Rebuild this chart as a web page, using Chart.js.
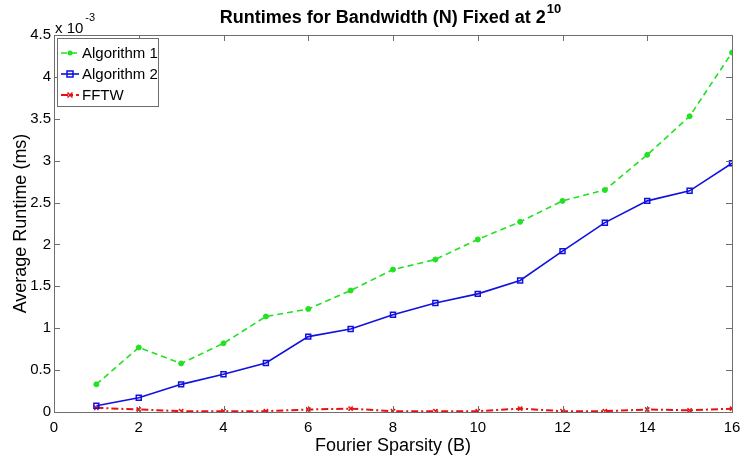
<!DOCTYPE html>
<html>
<head>
<meta charset="utf-8">
<script src="https://cdn.jsdelivr.net/npm/chart.js@4"></script>
<style>
  html, body { margin: 0; padding: 0; background: #fff; }
  #wrap { width: 740px; height: 461px; }
</style>
</head>
<body>
<div id="wrap"><canvas id="chart1" width="740" height="461"></canvas></div>
<script>
// runtimes are in units of 1e-3 ms (axis multiplier "x 10^-3")
const sparsity = [1, 2, 3, 4, 5, 6, 7, 8, 9, 10, 11, 12, 13, 14, 15, 16]
const algo1 = [0.33, 0.77, 0.58, 0.82, 1.14, 1.23, 1.45, 1.70, 1.82, 2.06, 2.27, 2.52, 2.65, 3.07, 3.53, 4.29]
const algo2 = [0.075, 0.17, 0.33, 0.45, 0.585, 0.90, 0.99, 1.16, 1.30, 1.41, 1.57, 1.92, 2.26, 2.52, 2.64, 2.97]
const fftw = [0.05, 0.03, 0.01, 0.01, 0.01, 0.03, 0.04, 0.01, 0.01, 0.01, 0.04, 0.01, 0.01, 0.03, 0.02, 0.04]
const seriesNames = ['Algorithm 1', 'Algorithm 2', 'FFTW']

const FONT = '"Liberation Sans", Arial, Helvetica, sans-serif'

function pts(arr){
    return sparsity.map((x, i) => ({x: x, y: arr[i]}))
}

// MATLAB style: box, inward ticks, title with superscript, exponent label, legend inside
const matlabBits = {
    id: 'matlabBits',
    afterDraw(chart){
        const ctx = chart.ctx
        const a = chart.chartArea
        const xs = chart.scales.x, ys = chart.scales.y
        ctx.save()
        ctx.strokeStyle = '#6e6e6e'
        ctx.lineWidth = 1
        ctx.strokeRect(a.left + 0.5, a.top + 0.5, a.right - a.left, a.bottom - a.top)
        ctx.beginPath()
        xs.ticks.forEach(t => {
            const px = Math.round(xs.getPixelForValue(t.value)) + 0.5
            ctx.moveTo(px, a.bottom); ctx.lineTo(px, a.bottom - 6)
            ctx.moveTo(px, a.top); ctx.lineTo(px, a.top + 6)
        })
        ys.ticks.forEach(t => {
            const py = Math.round(ys.getPixelForValue(t.value)) + 0.5
            ctx.moveTo(a.left, py); ctx.lineTo(a.left + 6, py)
            ctx.moveTo(a.right, py); ctx.lineTo(a.right - 6, py)
        })
        ctx.stroke()

        // title
        ctx.fillStyle = '#000'
        ctx.textBaseline = 'alphabetic'
        const main = 'Runtimes for Bandwidth (N) Fixed at 2'
        ctx.font = 'bold 13px ' + FONT
        const supW = ctx.measureText('10').width
        ctx.font = 'bold 18px ' + FONT
        const mainW = ctx.measureText(main).width
        const tx = 390 - (mainW + supW) / 2
        ctx.textAlign = 'left'
        ctx.fillText(main, tx, 23)
        ctx.font = 'bold 13px ' + FONT
        ctx.fillText('10', tx + mainW + 1, 13)

        // exponent label
        ctx.font = '15px ' + FONT
        ctx.fillText('x 10', a.left + 1, 33)
        const ew = ctx.measureText('x 10').width
        ctx.font = '11px ' + FONT
        ctx.fillText('-3', a.left + 3 + ew, 21)

        // legend
        const lx = a.left + 3, ly = a.top + 3, lw = 101, lh = 68
        ctx.fillStyle = '#fff'
        ctx.fillRect(lx, ly, lw, lh)
        ctx.strokeStyle = '#6e6e6e'
        ctx.lineWidth = 1
        ctx.strokeRect(lx + 0.5, ly + 0.5, lw, lh)
        chart.data.datasets.forEach((ds, i) => {
            const cy = ly + 15 + i * 21
            ctx.strokeStyle = ds.borderColor
            ctx.lineWidth = ds.borderWidth
            ctx.setLineDash(ds.borderDash || [])
            ctx.beginPath()
            ctx.moveTo(lx + 4, cy); ctx.lineTo(lx + 22, cy)
            ctx.stroke()
            ctx.setLineDash([])
            const mx = lx + 13
            ctx.fillStyle = ds.pointBackgroundColor
            ctx.strokeStyle = ds.pointBorderColor
            ctx.lineWidth = 1.5
            ctx.beginPath()
            if (ds.pointStyle === 'circle') {
                ctx.arc(mx, cy, 2.5, 0, Math.PI * 2); ctx.fill()
            } else if (ds.pointStyle === 'rect') {
                ctx.strokeRect(mx - 3, cy - 3, 6, 6)
            } else {
                ctx.moveTo(mx - 2.5, cy - 2.5); ctx.lineTo(mx + 2.5, cy + 2.5)
                ctx.moveTo(mx + 2.5, cy - 2.5); ctx.lineTo(mx - 2.5, cy + 2.5)
                ctx.stroke()
            }
            ctx.fillStyle = '#000'
            ctx.font = '15px ' + FONT
            ctx.textBaseline = 'middle'
            ctx.fillText(ds.label, lx + 25, cy + 1)
        })
        ctx.restore()
    }
}

function grafico(){
    const data = {
        datasets: [{
            label: seriesNames[0],
            data: pts(algo1),
            borderColor: '#22e022',
            backgroundColor: '#22e022',
            borderWidth: 1.6,
            borderDash: [6, 4],
            pointStyle: 'circle',
            pointRadius: 2.5,
            pointBackgroundColor: '#22e022',
            pointBorderColor: '#22e022',
            pointBorderWidth: 1
        }, {
            label: seriesNames[1],
            data: pts(algo2),
            borderColor: '#1010e0',
            backgroundColor: '#1010e0',
            borderWidth: 1.6,
            pointStyle: 'rect',
            pointRadius: 3.5,
            pointBackgroundColor: 'rgba(0,0,0,0)',
            pointBorderColor: '#1010e0',
            pointBorderWidth: 1.5
        }, {
            label: seriesNames[2],
            data: pts(fftw),
            borderColor: '#e81010',
            backgroundColor: '#e81010',
            borderWidth: 2,
            borderDash: [7, 3, 2, 3],
            pointStyle: 'crossRot',
            pointRadius: 3,
            pointBackgroundColor: '#e81010',
            pointBorderColor: '#e81010',
            pointBorderWidth: 1.5
        }]
    }
    new Chart(document.getElementById('chart1'), {
        type: 'line',
        data,
        plugins: [matlabBits],
        options: {
            responsive: false,
            animation: false,
            layout: {padding: {top: 35, right: 8, left: 0, bottom: 0}},
            plugins: {legend: {display: false}, title: {display: false}, tooltip: {enabled: false}},
            scales: {
                x: {
                    type: 'linear', min: 0, max: 16,
                    ticks: {stepSize: 2, color: '#000', font: {family: FONT, size: 15}, padding: 7},
                    grid: {display: false, drawTicks: false},
                    border: {display: false},
                    title: {display: true, text: 'Fourier Sparsity (B)', color: '#000', font: {family: FONT, size: 18}, padding: {top: 4}},
                    afterFit: s => { s.height = 49; s.paddingLeft = 0; s.paddingRight = 0 }
                },
                y: {
                    min: 0, max: 4.5,
                    ticks: {stepSize: 0.5, color: '#000', font: {family: FONT, size: 15}, padding: 3,
                        callback: v => String(v)},
                    grid: {display: false, drawTicks: false},
                    border: {display: false},
                    title: {display: true, text: 'Average Runtime (ms)', color: '#000', font: {family: FONT, size: 18}, padding: {top: 10, bottom: 0}},
                    afterFit: s => { s.width = 54; s.paddingTop = 0; s.paddingBottom = 0 }
                }
            }
        }
    })
}

grafico()
</script>
</body>
</html>
